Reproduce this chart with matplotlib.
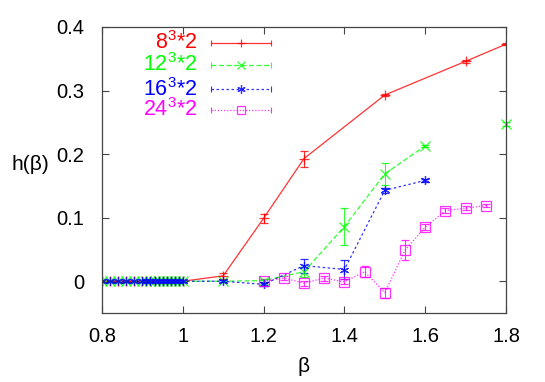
import numpy as np
import matplotlib
matplotlib.use("Agg")
import matplotlib.pyplot as plt

plt.rcParams['font.family'] = ['Liberation Sans', 'DejaVu Sans']
plt.rcParams['mathtext.fontset'] = 'custom'
plt.rcParams['mathtext.rm'] = 'Liberation Sans'

# ---- data ----
beta_low = [0.80, 0.82, 0.84, 0.86, 0.88, 0.90, 0.91, 0.92, 0.93, 0.94,
            0.95, 0.96, 0.97, 0.98, 0.99, 1.00]
h_low = [0.0] * len(beta_low)
err_low = [0.001] * len(beta_low)

beta_8 = beta_low + [1.1, 1.2, 1.3, 1.5, 1.7, 1.8]
h_8 = h_low + [0.0085, 0.099, 0.193, 0.293, 0.346, 0.373]
err_8 = err_low + [0.005, 0.007, 0.0125, 0.002, 0.002, 0.002]

beta_12 = beta_low + [1.1, 1.2, 1.3, 1.4, 1.5, 1.6]
h_12 = h_low + [0.0, 0.001, 0.015, 0.086, 0.169, 0.213]
err_12 = err_low + [0.002, 0.002, 0.008, 0.0296, 0.017, 0.002]
beta_12b = [1.8]
h_12b = [0.248]
err_12b = [0.003]

beta_16 = beta_low + [1.1, 1.2, 1.3, 1.4, 1.5, 1.6]
h_16 = h_low + [0.0, -0.005, 0.0246, 0.0184, 0.143, 0.1586]
err_16 = err_low + [0.002, 0.003, 0.011, 0.015, 0.004, 0.003]

beta_24 = [1.2, 1.25, 1.3, 1.35, 1.4, 1.45, 1.5, 1.55, 1.6, 1.65, 1.7, 1.75]
h_24 = [0.0, 0.005, -0.003, 0.005, -0.001, 0.015, -0.018, 0.049, 0.085, 0.111, 0.115, 0.119]
err_24 = [0.003, 0.003, 0.004, 0.004, 0.004, 0.009, 0.008, 0.016, 0.005, 0.004, 0.003, 0.003]

labels = [r'$8^3$*2', r'$12^3$*2', r'$16^3$*2', r'$24^3$*2']
colors = ['#ff0000', '#00ff00', '#0000ff', '#ff00ff']
styles = ['-', (0, (4, 2)), (0, (2, 2)), (0, (1, 1.5))]
markers = ['+', 'x', (6, 2, 0), 's']

xticks = [0.8, 1.0, 1.2, 1.4, 1.6, 1.8]
xticklabels = ['0.8', '1', '1.2', '1.4', '1.6', '1.8']
yticks = [0.0, 0.1, 0.2, 0.3, 0.4]
yticklabels = ['0', '0.1', '0.2', '0.3', '0.4']

fig = plt.figure(figsize=(5.45, 3.82), dpi=100)
ax = fig.add_axes([102/545, 1-313/382, 404/545, 286/382])

series = [(beta_8, h_8, err_8), (beta_12, h_12, err_12),
          (beta_16, h_16, err_16), (beta_24, h_24, err_24)]
for (b, h, e), c, ls, m in zip(series, colors, styles, markers):
    ax.errorbar(b, h, yerr=e, color=c, ls=ls, lw=0.9, marker=m, ms=6.5,
                mfc='none', mec=c, mew=0.9, elinewidth=0.8, capsize=3,
                capthick=0.8, alpha=0.8)
ax.errorbar(beta_12b, h_12b, yerr=err_12b, color=colors[1], ls='none', lw=0.9,
            marker=markers[1], ms=6.5, mec=colors[1], mew=0.9, elinewidth=0.8,
            capsize=3, capthick=0.8, alpha=0.8, clip_on=False)

# legend (gnuplot style)
ys = [0.944, 0.867, 0.783, 0.71]
for lab, c, ls, m, y in zip(labels, colors, styles, markers, ys):
    ax.text(0.235, y, lab, color=c, fontsize=15.5, ha='right', va='center',
            transform=ax.transAxes)
    ax.plot([0.27, 0.418], [y, y], color=c, ls=ls, lw=0.9, alpha=0.8,
            transform=ax.transAxes)
    ax.plot([0.27, 0.418], [y, y], color=c, ls='none', marker='|', ms=5,
            mew=0.8, alpha=0.8, transform=ax.transAxes)
    ax.plot([0.344], [y], color=c, ls='none', marker=m, ms=6, mfc='none',
            mew=0.9, alpha=0.8, transform=ax.transAxes)

ax.set_xlim(0.8, 1.8)
ax.set_ylim(-0.05, 0.4)
ax.set_xticks(xticks)
ax.set_xticklabels(xticklabels)
ax.set_yticks(yticks)
ax.set_yticklabels(yticklabels)
ax.tick_params(direction='in', top=True, right=True, length=5, width=0.8,
               labelsize=14.5, color='#444444')
ax.tick_params(axis='y', pad=13)
ax.tick_params(axis='x', pad=10)
for s in ax.spines.values():
    s.set_linewidth(0.9)
    s.set_color('#444444')

ax.set_xlabel('β', fontsize=15, labelpad=8)
ax.set_ylabel('h(β)', fontsize=15, rotation=0, labelpad=0, ha='center',
              va='center')
ax.yaxis.set_label_coords(-0.178, 0.52)

fig.savefig('out.png', dpi=100)
